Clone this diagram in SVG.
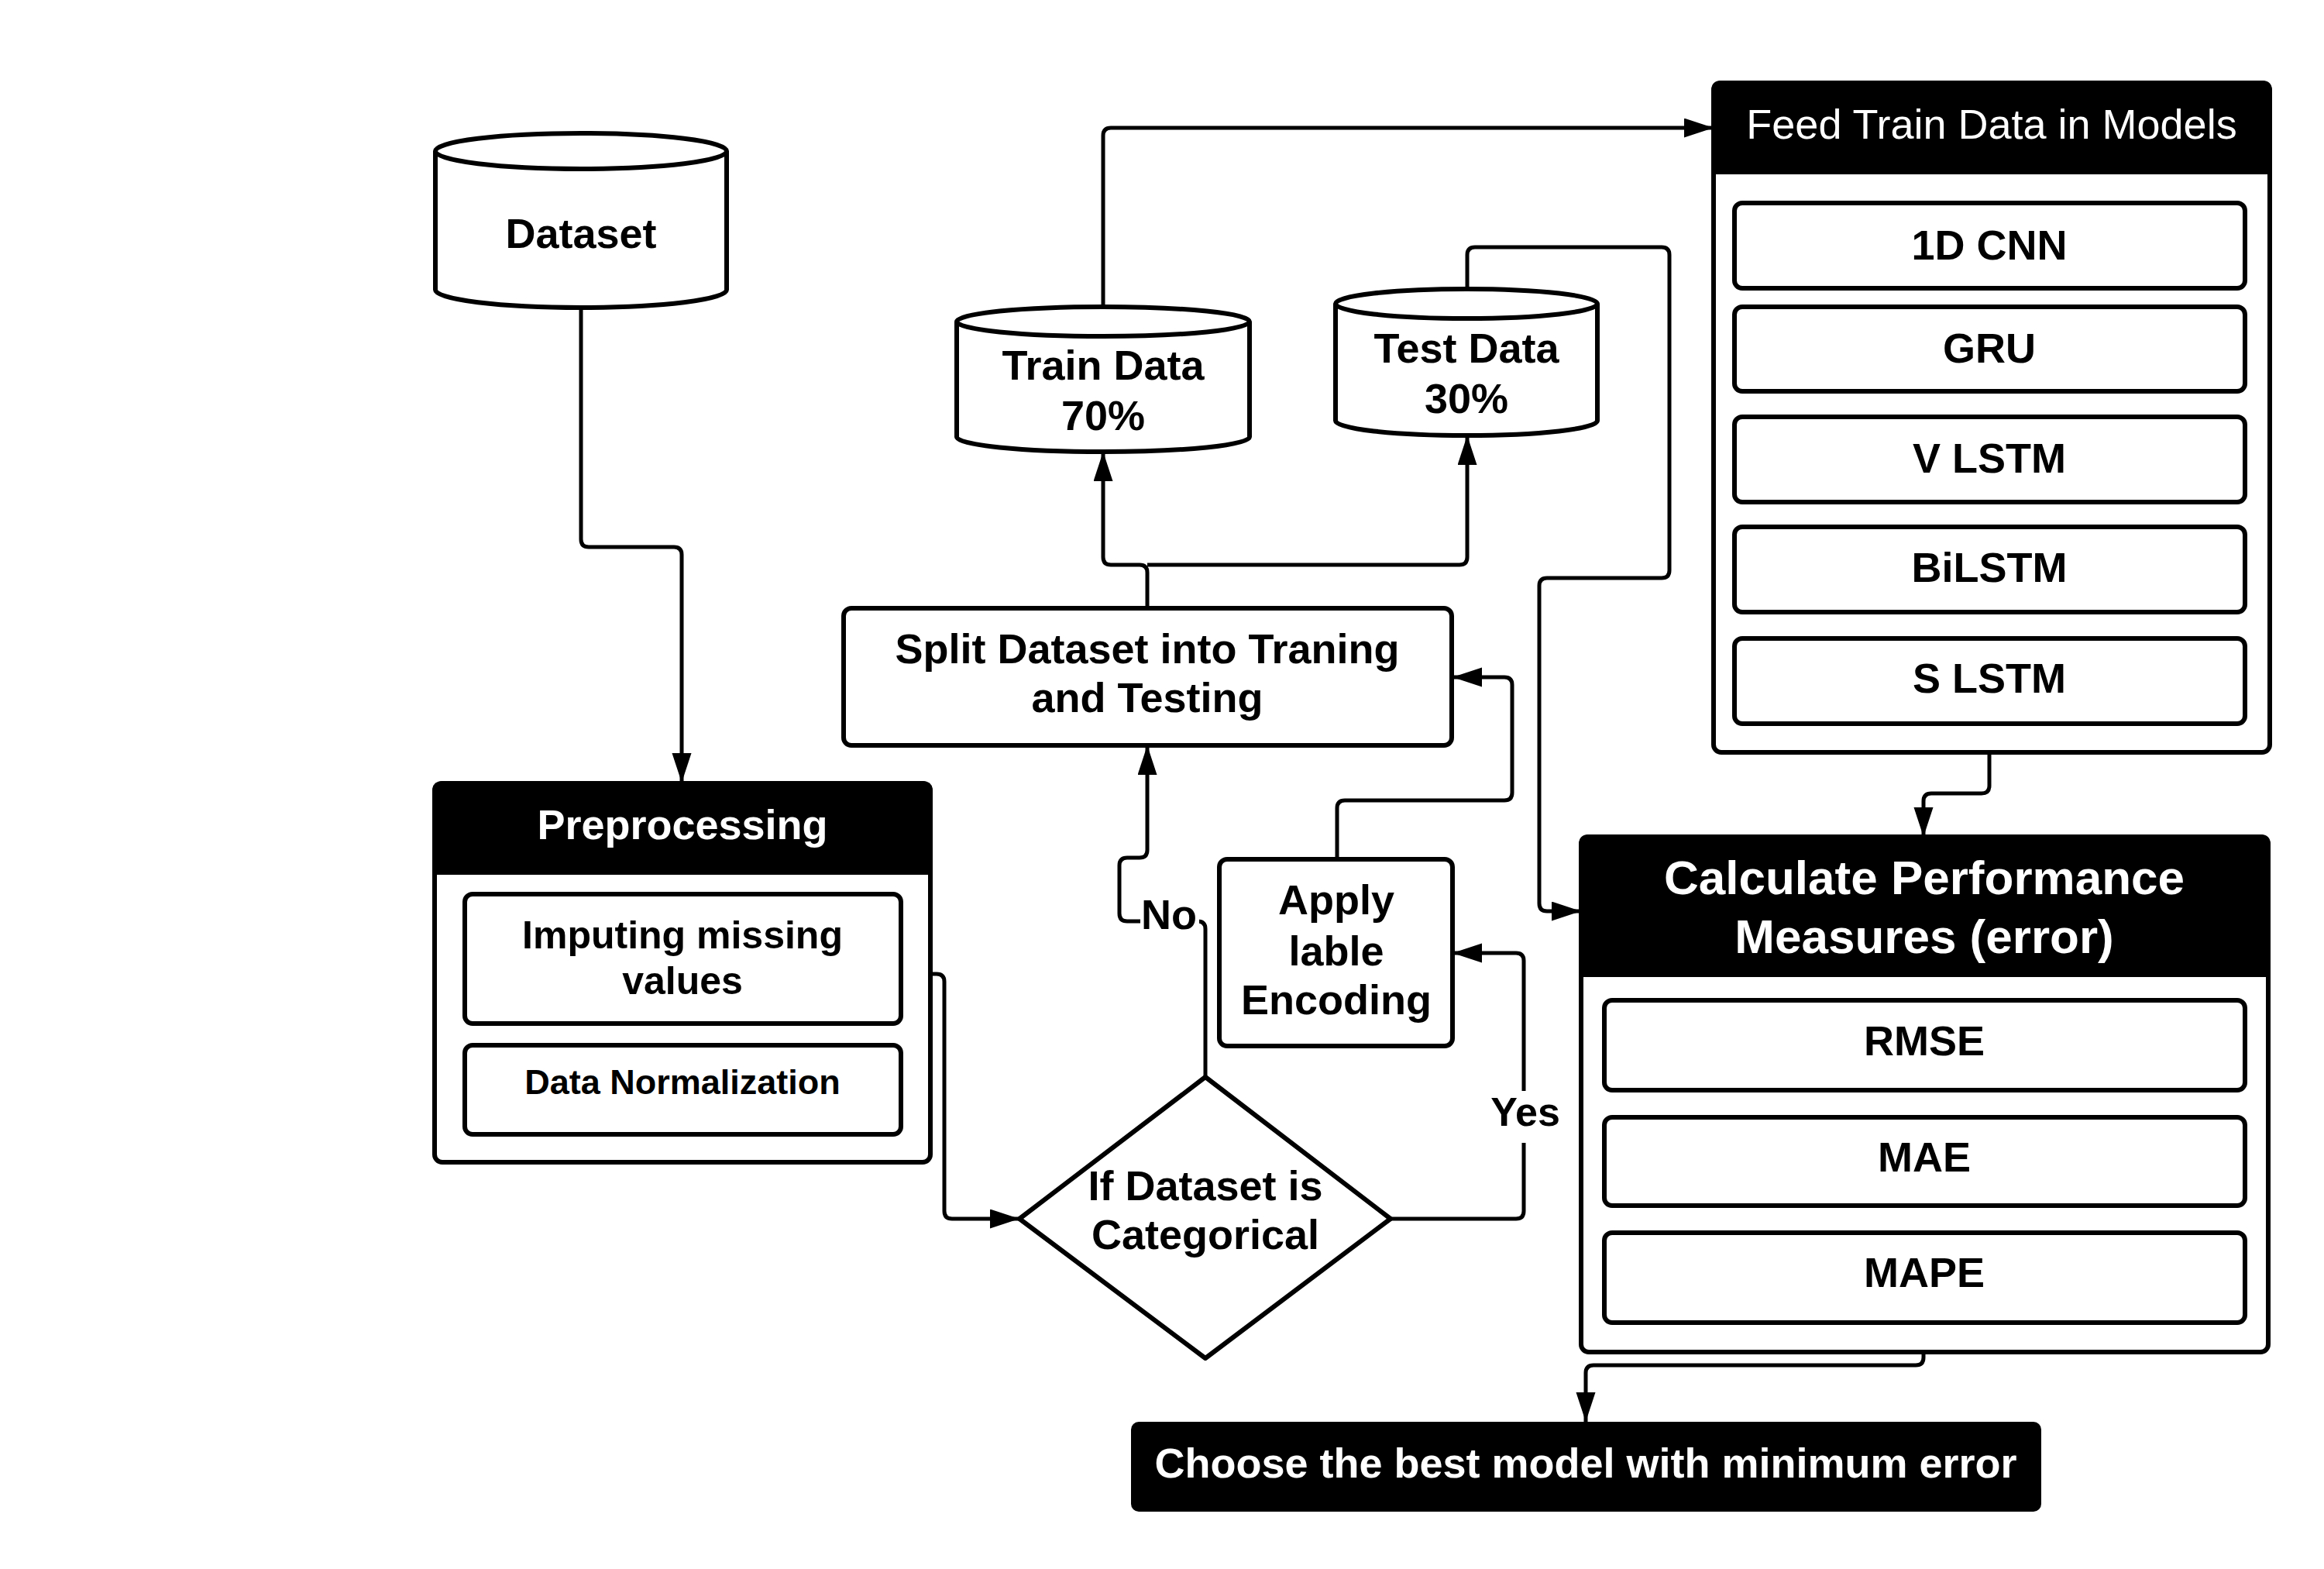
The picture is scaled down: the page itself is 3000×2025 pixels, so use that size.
<svg xmlns="http://www.w3.org/2000/svg" width="3000" height="2025" viewBox="0 0 3000 2025">
<style>
text{font-family:"Liberation Sans",Arial,sans-serif;font-weight:bold;font-size:54px;text-anchor:middle;fill:#000}
.w{fill:#fff}
.reg{font-weight:normal}
.box{fill:#fff;stroke:#000;stroke-width:6}
.hdr{fill:#000;stroke:#000;stroke-width:6}
.con{fill:none;stroke:#000;stroke-width:5}
</style>
<defs>
<marker id="ar" markerUnits="userSpaceOnUse" markerWidth="40" markerHeight="26" refX="38" refY="12.5" orient="auto">
<path d="M0,0 L38,12.5 L0,25 Z" fill="#000"/>
</marker>
</defs>
<rect width="3000" height="2025" fill="#fff"/>

<g id="connectors">
<path class="con" d="M750,397 V696 Q750,706 760,706 H870 Q880,706 880,716 V1010" marker-end="url(#ar)"/>
<path class="con" d="M1201,1257 H1209 Q1219,1257 1219,1267 V1563 Q1219,1573 1229,1573 H1316" marker-end="url(#ar)"/>
<path class="con" d="M1556,1390 V1199 Q1556,1189 1546,1189 H1455 Q1445,1189 1445,1179 V1117 Q1445,1107 1455,1107 H1471 Q1481,1107 1481,1097 V962" marker-end="url(#ar)"/>
<path class="con" d="M1795,1573 H1957 Q1967,1573 1967,1563 V1240 Q1967,1230 1957,1230 H1875" marker-end="url(#ar)"/>
<path class="con" d="M1726,1109 V1043 Q1726,1033 1736,1033 H1942 Q1952,1033 1952,1023 V884 Q1952,874 1942,874 H1875" marker-end="url(#ar)"/>
<path class="con" d="M1481,785 V739 Q1481,729 1471,729 H1434 Q1424,729 1424,719 V583" marker-end="url(#ar)"/>
<path class="con" d="M1481,729 H1884 Q1894,729 1894,719 V562" marker-end="url(#ar)"/>
<path class="con" d="M1424,396 V175 Q1424,165 1434,165 H2212" marker-end="url(#ar)"/>
<path class="con" d="M1894,373 V329 Q1894,319 1904,319 H2145 Q2155,319 2155,329 V736 Q2155,746 2145,746 H1997 Q1987,746 1987,756 V1166 Q1987,1176 1997,1176 H2041" marker-end="url(#ar)"/>
<path class="con" d="M2568,971 V1014 Q2568,1024 2558,1024 H2493 Q2483,1024 2483,1034 V1080" marker-end="url(#ar)"/>
<path class="con" d="M2483,1745 V1752 Q2483,1762 2473,1762 H2057 Q2047,1762 2047,1772 V1835" marker-end="url(#ar)"/>
<rect x="1472" y="1155" width="76" height="62" fill="#fff"/>
<text x="1509" y="1199">No</text>
<rect x="1930" y="1408" width="80" height="67" fill="#fff"/>
<text x="1969" y="1453" style="font-size:52px">Yes</text>
</g>

<g id="dataset">
<path class="box" d="M562,195 A188,23 0 0 1 938,195 L938,374 A188,23 0 0 1 562,374 Z"/>
<path class="box" fill="none" d="M562,195 A188,23 0 0 0 938,195"/>
<text x="750" y="320">Dataset</text>
</g>

<g id="train-data">
<path class="box" d="M1235,415 A189,19 0 0 1 1613,415 L1613,564 A189,19 0 0 1 1235,564 Z"/>
<path class="box" fill="none" d="M1235,415 A189,19 0 0 0 1613,415"/>
<text x="1424" y="490">Train Data</text>
<text x="1424" y="555">70%</text>
</g>

<g id="test-data">
<path class="box" d="M1724,392 A169,19 0 0 1 2062,392 L2062,543 A169,19 0 0 1 1724,543 Z"/>
<path class="box" fill="none" d="M1724,392 A169,19 0 0 0 2062,392"/>
<text x="1893" y="468">Test Data</text>
<text x="1893" y="533">30%</text>
</g>

<g id="preprocessing">
<rect class="box" x="561" y="1011" width="640" height="489" rx="10"/>
<path class="hdr" d="M561,1126 V1021 Q561,1011 571,1011 H1191 Q1201,1011 1201,1021 V1126 Z"/>
<text class="w" x="881" y="1083">Preprocessing</text>
<rect class="box" x="600" y="1154" width="563" height="167" rx="10"/>
<text x="881" y="1224" style="font-size:50px">Imputing missing</text>
<text x="881" y="1283" style="font-size:50px">values</text>
<rect class="box" x="600" y="1349" width="563" height="115" rx="10"/>
<text x="881" y="1412" style="font-size:45px">Data Normalization</text>
</g>

<g id="decision">
<path class="box" d="M1316,1573 L1556,1390 L1795,1573 L1556,1753 Z" stroke-linejoin="round"/>
<text x="1556" y="1549">If Dataset is</text>
<text x="1556" y="1612">Categorical</text>
</g>

<g id="split">
<rect class="box" x="1089" y="785" width="785" height="177" rx="10"/>
<text x="1481" y="856">Split Dataset into Traning</text>
<text x="1481" y="919">and Testing</text>
</g>

<g id="apply-encoding">
<rect class="box" x="1574" y="1109" width="301" height="241" rx="10"/>
<text x="1725" y="1180">Apply</text>
<text x="1725" y="1246">lable</text>
<text x="1725" y="1309">Encoding</text>
</g>

<g id="feed-models">
<rect class="box" x="2212" y="107" width="718" height="864" rx="10"/>
<path class="hdr" d="M2212,222 V117 Q2212,107 2222,107 H2920 Q2930,107 2930,117 V222 Z"/>
<text class="w reg" x="2571" y="179">Feed Train Data in Models</text>
<rect class="box" x="2239" y="262" width="659" height="110" rx="10"/>
<text x="2568" y="335">1D CNN</text>
<rect class="box" x="2239" y="396" width="659" height="109" rx="10"/>
<text x="2568" y="468">GRU</text>
<rect class="box" x="2239" y="538" width="659" height="110" rx="10"/>
<text x="2568" y="610">V LSTM</text>
<rect class="box" x="2239" y="680" width="659" height="110" rx="10"/>
<text x="2568" y="751">BiLSTM</text>
<rect class="box" x="2239" y="824" width="659" height="110" rx="10"/>
<text x="2568" y="894">S LSTM</text>
</g>

<g id="performance">
<rect class="box" x="2041" y="1080" width="887" height="665" rx="10"/>
<path class="hdr" d="M2041,1258 V1090 Q2041,1080 2051,1080 H2918 Q2928,1080 2928,1090 V1258 Z"/>
<text class="w" x="2484" y="1154" style="font-size:62px">Calculate Performance</text>
<text class="w" x="2484" y="1230" style="font-size:62px">Measures (error)</text>
<rect class="box" x="2071" y="1291" width="827" height="116" rx="10"/>
<text x="2484" y="1362">RMSE</text>
<rect class="box" x="2071" y="1442" width="827" height="114" rx="10"/>
<text x="2484" y="1512">MAE</text>
<rect class="box" x="2071" y="1591" width="827" height="116" rx="10"/>
<text x="2484" y="1661">MAPE</text>
</g>

<g id="choose-best">
<rect x="1460" y="1835" width="1175" height="116" rx="10" fill="#000"/>
<text class="w" x="2047" y="1907">Choose the best model with minimum error</text>
</g>
</svg>
